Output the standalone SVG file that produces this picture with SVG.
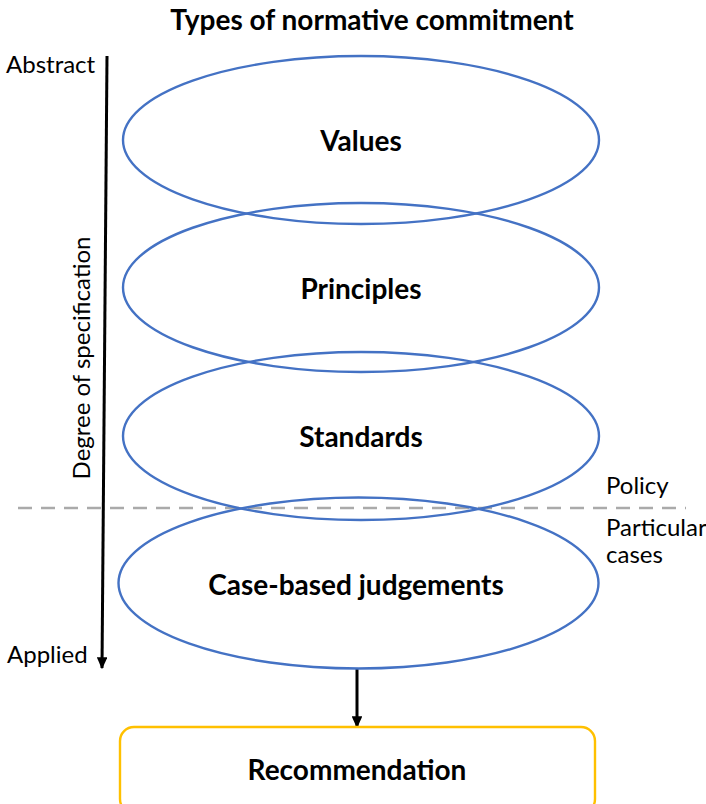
<svg xmlns="http://www.w3.org/2000/svg" width="706" height="804" viewBox="0 0 706 804">
<defs>
<style>
.e{fill:none;stroke:#4472C4;stroke-width:2.4}
.t{font-family:Lato,"Liberation Sans",sans-serif;font-weight:bold;font-size:28px;fill:#000;text-anchor:middle}
.s{font-family:Lato,"Liberation Sans",sans-serif;font-size:24px;fill:#000}
</style>
<marker id="ah" viewBox="0 0 10 10" refX="9" refY="5" markerWidth="4" markerHeight="3.6" orient="auto" markerUnits="strokeWidth" preserveAspectRatio="none">
<path d="M0,0 L10,5 L0,10 z" fill="#000"/>
</marker>
</defs>
<rect width="706" height="804" fill="#fff"/>
<text class="t" x="372" y="30">Types of normative commitment</text>
<text class="s" x="6" y="73">Abstract</text>
<text class="s" x="7" y="663">Applied</text>
<text class="s" transform="translate(90,358) rotate(-90)" text-anchor="middle">Degree of specification</text>
<text class="s" x="606" y="494">Policy</text>
<text class="s" x="606" y="536">Particular</text>
<text class="s" x="606" y="563">cases</text>
<line x1="18" y1="508" x2="686" y2="508" stroke="#AAAAAA" stroke-width="2.5" stroke-dasharray="14,9"/>
<g id="connectors">
<line x1="107" y1="56" x2="102" y2="668" stroke="#000" stroke-width="3" marker-end="url(#ah)"/>
<line x1="357" y1="669" x2="357" y2="727" stroke="#000" stroke-width="3" marker-end="url(#ah)"/>
</g>
<g id="values"><ellipse class="e" cx="361" cy="140" rx="238" ry="84"/><text class="t" x="361" y="151">Values</text></g>
<g id="principles"><ellipse class="e" cx="361" cy="287.5" rx="238" ry="84.5"/><text class="t" x="361" y="299">Principles</text></g>
<g id="standards"><ellipse class="e" cx="361" cy="436" rx="238" ry="84"/><text class="t" x="361" y="447">Standards</text></g>
<g id="cases"><ellipse class="e" cx="358.5" cy="583" rx="240" ry="85.5"/><text class="t" x="356" y="595">Case-based judgements</text></g>
<g id="recommendation"><rect x="120" y="727" width="475" height="86" rx="14" fill="none" stroke="#FFC000" stroke-width="2.4"/><text class="t" x="357" y="780">Recommendation</text></g>
</svg>
